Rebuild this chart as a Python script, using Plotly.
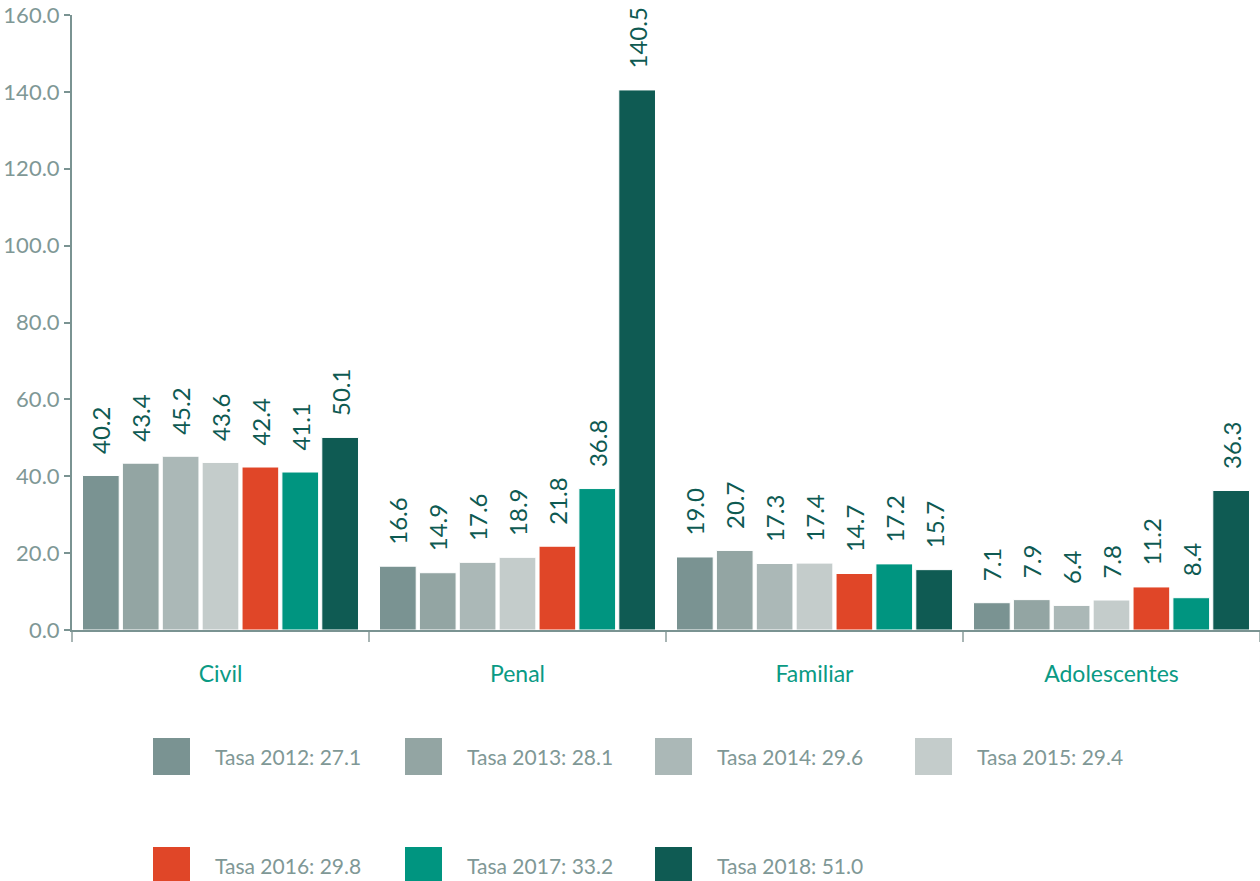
import plotly.graph_objects as go

categories = ["Civil", "Penal", "Familiar", "Adolescentes"]
years = ["2012", "2013", "2014", "2015", "2016", "2017", "2018"]
v2012 = [40.2, 16.6, 19.0, 7.1]
v2013 = [43.4, 14.9, 20.7, 7.9]
v2014 = [45.2, 17.6, 17.3, 6.4]
v2015 = [43.6, 18.9, 17.4, 7.8]
v2016 = [42.4, 21.8, 14.7, 11.2]
v2017 = [41.1, 36.8, 17.2, 8.4]
v2018 = [50.1, 140.5, 15.7, 36.3]
series = [v2012, v2013, v2014, v2015, v2016, v2017, v2018]
tasas = [27.1, 28.1, 29.6, 29.4, 29.8, 33.2, 51.0]
y_ticks = [0, 20, 40, 60, 80, 100, 120, 140, 160]

colors = ["#7A9392", "#93A5A3", "#ABB8B7", "#C4CCCB", "#E04628", "#009580", "#0F5B53"]
FONT = "Lato"
GREY = "#7F9896"

fig = go.Figure()
for yr, vals, col in zip(years, series, colors):
    fig.add_trace(go.Bar(
        x=categories, y=vals, name="Tasa " + yr,
        marker=dict(color=col, line=dict(color="white", width=1)),
        texttemplate="\u00a0\u00a0\u00a0%{y:.1f}",
        textposition="outside", textangle=-90,
        constraintext="none", cliponaxis=False,
        outsidetextfont=dict(family=FONT, size=24, color="#0E5A52"),
        showlegend=False,
    ))

# manual legend (two rows)
W_PLOT = 1188.0
H_PLOT = 615.0
legend_pos = [(153, 738), (405, 738), (655, 738), (915, 738),
              (153, 847), (405, 847), (655, 847)]
for (px, py), yr, t, col in zip(legend_pos, years, tasas, colors):
    x0 = (px - 72) / W_PLOT
    x1 = (px + 37 - 72) / W_PLOT
    y0 = (630 - py) / H_PLOT
    y1 = (630 - py - 37) / H_PLOT
    fig.add_shape(type="rect", xref="paper", yref="paper",
                  x0=x0, x1=x1, y0=y1, y1=y0,
                  fillcolor=col, line=dict(width=0))
    fig.add_annotation(xref="paper", yref="paper",
                       x=(px + 60 - 72) / W_PLOT, y=(630 - py - 18.5) / H_PLOT,
                       text=f"Tasa {yr}: {t:.1f}", showarrow=False,
                       xanchor="left", yanchor="middle",
                       font=dict(family=FONT, size=21, color=GREY))

fig.update_layout(
    width=1260, height=881,
    margin=dict(l=72, r=0, t=15, b=251),
    plot_bgcolor="white", paper_bgcolor="white",
    barmode="group", bargap=0.06, bargroupgap=0.08,
    font=dict(family=FONT, color=GREY),
    xaxis=dict(
        showline=True, linecolor="#7A9392", linewidth=2,
        ticks="outside", tickson="boundaries", ticklen=10,
        tickcolor="#A8B5B4", tickwidth=1.5,
        tickfont=dict(family=FONT, size=23, color="#0A9A84"),
        ticklabelstandoff=22, showgrid=False,
    ),
    yaxis=dict(
        range=[0, 160], tickvals=y_ticks, tickformat=".1f",
        showline=True, linecolor="#7A9392", linewidth=2,
        ticks="outside", ticklen=6, tickcolor="#7A9392", tickwidth=1.5,
        tickfont=dict(family=FONT, size=22, color=GREY),
        showgrid=False, zeroline=False,
    ),
)

fig.write_html("out.html")
